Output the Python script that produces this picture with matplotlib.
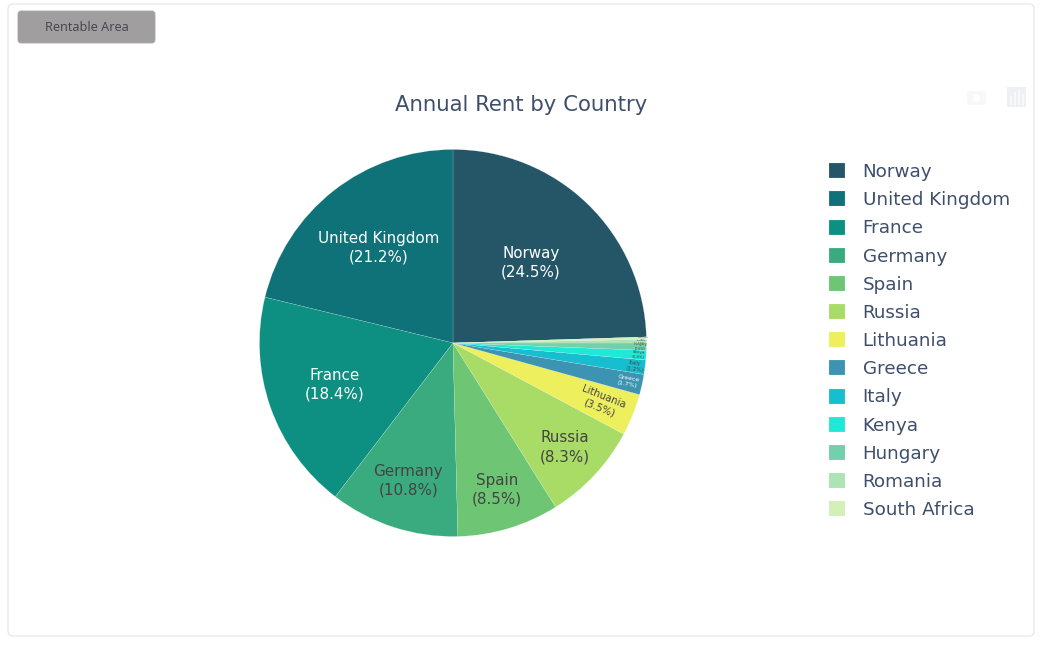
import numpy as np
import matplotlib.pyplot as plt
from matplotlib.patches import FancyBboxPatch, Rectangle, Circle

plt.rcParams["font.family"] = ["DejaVu Sans"]

countries = ["Norway", "United Kingdom", "France", "Germany", "Spain", "Russia", "Lithuania",
             "Greece", "Italy", "Kenya", "Hungary", "Romania", "South Africa"]
rent_share = [24.5, 21.2, 18.4, 10.8, 8.5, 8.3, 3.5, 1.7, 1.2, 0.8, 0.6, 0.3, 0.2]
colors = ["#245668", "#0f7279", "#0d8f81", "#39ab7e", "#6ec574", "#a9dc67", "#edef5d",
          "#3c93b2", "#17becf", "#1de9d6", "#72d0ad", "#aee3b5", "#d2f0b8"]
text_colors = ["white", "white", "white", "#444444", "#444444", "#444444", "#444444",
               "white", "#444444", "#444444", "#444444", "#444444", "#444444"]
label_radius = [0.58, 0.625, 0.65, 0.75, 0.79, 0.79, 0.826, 0.926, 0.947, 0.96, 0.97, 0.975, 0.98]
label_size = [10.9, 10.9, 10.9, 10.9, 10.9, 10.9, 7.2, 4.4, 4.0, 2.9, 2.3, 1.5, 1.2]
label_rot = [0, 0, 0, 0, 0, 0, -22, -10, -6, -3, -1, 0, 1]

W, H = 1041, 646
fig = plt.figure(figsize=(W / 100, H / 100), dpi=100, facecolor="white")

# page furniture in pixel coordinates
bg = fig.add_axes([0, 0, 1, 1])
bg.set_xlim(0, W)
bg.set_ylim(H, 0)
bg.axis("off")
bg.add_patch(FancyBboxPatch((8, 4), 1026, 632, boxstyle="round,pad=0,rounding_size=5",
                            fc="white", ec="#e4e4e4", lw=0.8))
bg.add_patch(FancyBboxPatch((18, 11), 137, 32, boxstyle="round,pad=0,rounding_size=3",
                            fc="#a09e9f", ec="#a8a6a7", lw=0.6))
bg.text(86.5, 27.5, "Rentable Area", ha="center", va="center", fontsize=9.2, color="#44444c",
        family="Open Sans")
bg.text(521, 105, "Annual Rent by Country", ha="center", va="center", fontsize=15.3,
        color="#3f4f6b")

# modebar icons, barely visible
bg.add_patch(Rectangle((1007, 87), 19, 20, fc="#eef0f4", ec="none"))
for bx, bh in zip([1010, 1014, 1018, 1022], [9, 13, 15, 11]):
    bg.add_patch(Rectangle((bx, 105 - bh), 2.2, bh, fc="#f8f9fa", ec="none"))
bg.add_patch(FancyBboxPatch((967, 91), 19, 14, boxstyle="round,pad=0,rounding_size=2",
                            fc="#f8f8f9", ec="none"))
bg.add_patch(Circle((976.5, 98), 3.6, fc="white", ec="none"))

# pie: Norway ends just above 3 o'clock, the rest runs round from the top going left
cx, cy, r = 453, 343, 193.5
ax = fig.add_axes([(cx - r) / W, 1 - (cy + r) / H, 2 * r / W, 2 * r / H])
wedges, _ = ax.pie(rent_share, colors=colors, startangle=90 - rent_share[0] * 360 / sum(rent_share),
                   counterclock=True, radius=1, wedgeprops={"linewidth": 0.12, "edgecolor": "#e8f4f0"})
ax.set_xlim(-1, 1)
ax.set_ylim(-1, 1)

for w, name, val, tc, lr, fs, rot in zip(wedges, countries, rent_share, text_colors,
                                         label_radius, label_size, label_rot):
    mid = np.deg2rad((w.theta1 + w.theta2) / 2)
    ax.text(lr * np.cos(mid), lr * np.sin(mid), f"{name}\n({val}%)", ha="center", va="center",
            color=tc, fontsize=fs, rotation=rot, rotation_mode="anchor", linespacing=1.3)

leg = fig.legend(wedges, countries, loc="upper left", bbox_to_anchor=(829 / W, 1 - 163 / H),
                 frameon=False, labelcolor="#3f4f6b", handlelength=0.88,
                 handleheight=0.88, handletextpad=0.95, labelspacing=0.555, borderpad=0,
                 borderaxespad=0, prop={"family": "DejaVu Sans", "size": 13.2})

fig.savefig("out.png", dpi=100)
